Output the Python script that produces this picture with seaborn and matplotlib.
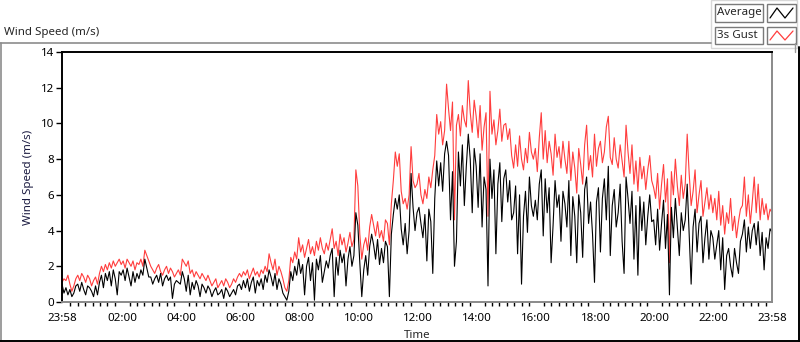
import numpy as np
import pandas as pd
import seaborn as sns
import matplotlib
matplotlib.use("Agg")
import matplotlib.pyplot as plt
from matplotlib.lines import Line2D
from matplotlib.patches import Rectangle

# ---------------- data (4-minute samples starting 23:58, one row per hour) ----------------
gust = [
    1.1, 1.3, 1.2, 1.5, 1.0, 0.6, 0.9, 1.3, 1.5, 1.2, 1.6, 1.4, 1.1, 1.5, 1.3,
    0.9, 1.2, 1.4, 1.0, 1.6, 2.0, 1.7, 2.1, 1.8, 2.2, 1.9, 2.3, 2.0, 2.2, 2.4,
    2.1, 2.3, 1.9, 2.4, 2.2, 2.0, 2.3, 1.8, 2.2, 2.1, 2.4, 2.0, 2.9, 2.6, 2.3,
    2.0, 1.8, 1.6, 1.9, 2.1, 1.7, 1.5, 1.8, 2.0, 1.6, 1.9, 1.7, 1.4, 1.6, 1.8,
    1.5, 2.4, 2.2, 2.0, 2.3, 1.6, 1.8, 1.4, 1.7, 1.5, 1.3, 1.6, 1.4, 1.2, 1.5,
    1.2, 0.9, 1.1, 1.3, 0.8, 1.0, 1.2, 0.9, 1.3, 1.1, 0.8, 1.0, 1.3, 1.1, 1.4,
    1.6, 1.4, 1.7, 1.5, 1.8, 1.3, 1.6, 1.9, 1.5, 1.7, 1.4, 1.8, 1.6, 2.0, 1.7,
    2.7, 2.2, 1.8, 2.4, 1.5, 2.0, 1.7, 1.3, 0.8, 0.6, 1.2, 2.5, 2.2, 2.8, 2.4,
    3.6, 2.8, 3.2, 2.5, 3.0, 3.5, 2.7, 3.1, 2.6, 3.4, 2.9, 3.6, 3.0, 2.7, 3.3,
    2.9, 3.5, 4.1, 3.0, 3.4, 2.6, 3.8, 3.2, 3.6, 2.8, 3.3, 3.9, 3.1, 3.5, 7.4,
    6.5, 3.8, 2.4, 3.2, 3.6, 2.9, 4.2, 4.9, 4.3, 3.7, 4.5, 3.6, 4.0, 3.4, 4.6,
    4.4, 3.2, 5.5, 6.8, 8.4, 7.6, 8.3, 6.2, 5.5, 5.8, 5.2, 6.0, 8.7, 6.8, 6.4,
    6.6, 7.2, 6.0, 5.5, 6.3, 5.8, 7.0, 6.4, 7.4, 8.2, 10.5, 9.4, 10.1, 8.8, 9.6,
    12.2, 10.8, 9.6, 11.2, 4.6, 9.9, 10.5, 9.3, 11.0, 10.2, 9.8, 12.4, 10.6, 9.5, 11.3,
    10.4, 9.2, 11.0, 8.5, 9.8, 10.6, 4.8, 11.8, 9.4, 10.2, 8.8, 9.6, 10.8, 9.0, 9.9,
    10.0, 9.1, 9.7, 8.2, 7.5, 8.8, 7.6, 9.3, 8.0, 7.4, 8.6, 7.8, 9.5, 8.4, 8.0,
    8.6, 7.3, 9.2, 10.6, 8.0, 9.6, 7.8, 9.0, 8.3, 7.1, 9.4, 8.1, 8.7, 7.5, 9.0,
    8.0, 7.2, 9.0, 6.8, 8.4, 7.5, 6.1, 8.6, 7.7, 6.6, 8.8, 9.9, 7.4, 8.2, 7.0,
    9.4, 7.6, 8.6, 9.0, 7.8, 8.4, 9.8, 10.4, 8.1, 7.7, 9.2, 8.0, 7.5, 8.8, 7.9,
    7.0, 9.9, 8.4, 7.2, 8.8, 6.6, 7.9, 6.2, 8.1, 6.9, 7.6, 6.3, 7.4, 8.2, 6.8,
    6.4, 5.8, 7.2, 5.2, 6.6, 7.7, 5.6, 6.9, 2.2, 7.3, 6.0, 8.0, 6.5, 5.4, 7.1,
    5.8, 6.6, 9.4, 7.2, 5.4, 6.2, 7.4, 5.0, 6.0, 6.8, 4.8, 5.6, 6.4, 5.2, 6.0,
    5.0, 5.8, 4.6, 6.2, 4.3, 5.4, 3.8, 5.0, 4.4, 5.8, 4.0, 4.8, 3.6, 4.5, 5.2,
    5.4, 7.0, 4.8, 6.0, 4.4, 5.6, 7.0, 5.0, 6.6, 4.6, 5.8, 4.9, 5.5, 4.6, 5.2,
    5.0,
]
average = [
    1.0, 0.5, 0.8, 0.4, 0.7, 0.3, 0.5, 0.9, 1.0, 0.6, 1.1, 0.7, 0.4, 0.9, 0.8,
    0.6, 0.3, 0.9, 0.4, 1.1, 1.5, 0.8, 1.6, 1.2, 1.7, 0.9, 1.8, 1.3, 0.4, 1.7,
    1.5, 1.8, 1.2, 1.9, 1.4, 0.9, 1.7, 1.1, 1.6, 1.3, 1.8, 1.5, 2.4, 1.9, 1.4,
    1.4, 1.0, 1.3, 1.5, 1.1, 1.6, 0.9, 1.3, 1.5, 1.2, 1.4, 0.2, 1.0, 1.2, 1.1,
    1.0, 1.7, 1.3, 0.6, 1.5, 0.4, 1.1, 0.7, 1.2, 0.9, 0.3, 1.0, 0.8, 0.5, 0.9,
    0.7, 0.3, 0.6, 0.8, 0.4, 0.5, 0.7, 0.2, 0.8, 0.6, 0.3, 0.5, 0.7, 0.4, 0.9,
    1.0, 0.7, 1.2, 0.8, 1.3, 0.6, 1.1, 1.4, 0.5, 1.2, 0.9, 1.3, 0.7, 1.5, 1.1,
    1.8, 1.4, 0.9, 1.6, 0.7, 1.3, 1.0, 0.5, 0.3, 0.1, 0.6, 1.7, 1.2, 2.0, 1.5,
    2.4, 1.6, 2.1, 0.4, 2.0, 2.5, 1.2, 2.2, 0.1, 2.4, 1.8, 2.6, 1.1, 1.7, 2.3,
    1.9, 2.6, 3.0, 0.3, 2.5, 1.5, 2.9, 2.2, 2.7, 0.9, 2.4, 3.1, 2.0, 2.6, 5.0,
    4.3, 2.2, 0.3, 1.8, 2.6, 1.5, 3.1, 3.8, 3.2, 2.4, 3.5, 2.1, 3.0, 2.2, 3.4,
    3.1, 0.3, 3.8, 4.9, 5.8, 5.2, 6.0, 4.1, 3.2, 4.4, 2.7, 4.0, 7.2, 5.3, 4.0,
    5.0, 5.3, 4.4, 3.6, 4.9, 2.3, 5.2, 4.5, 1.6, 5.8, 7.9, 6.5, 7.8, 6.2, 8.3,
    9.0, 8.2, 4.6, 7.3, 2.0, 3.4, 8.4, 6.5, 8.8, 5.4, 7.6, 9.4, 8.0, 5.0, 8.6,
    7.6, 5.3, 8.3, 4.2, 7.0, 6.3, 0.9, 8.0, 5.8, 7.4, 2.7, 6.6, 7.8, 4.5, 6.9,
    7.4, 5.6, 6.8, 4.6, 5.0, 6.5, 2.7, 6.0, 1.0, 4.8, 6.2, 3.9, 7.0, 5.4, 4.8,
    5.7, 4.6, 6.6, 7.4, 3.7, 6.9, 5.0, 6.4, 2.2, 4.3, 6.8, 5.3, 6.0, 3.4, 6.2,
    5.5, 4.2, 6.8, 2.6, 5.9, 4.8, 2.2, 6.0, 5.0, 2.5, 6.3, 7.0, 4.4, 5.6, 3.8,
    1.1, 5.6, 6.4, 2.8, 5.8, 6.9, 4.6, 7.6, 2.6, 5.4, 6.3, 4.2, 5.0, 6.6, 3.4,
    1.6, 7.0, 5.8, 4.4, 6.2, 2.4, 5.4, 1.5, 5.9, 4.0, 5.6, 3.2, 4.8, 6.0, 4.5,
    4.6, 3.2, 5.2, 2.9, 4.4, 5.7, 3.0, 4.9, 0.4, 5.3, 3.6, 5.8, 4.2, 2.6, 5.0,
    4.0, 4.6, 6.6, 3.8, 1.0, 4.2, 5.2, 2.8, 4.4, 4.8, 2.2, 3.6, 4.6, 2.4, 4.0,
    3.6, 2.4, 3.2, 4.0, 1.8, 3.6, 0.7, 2.6, 3.0, 2.0, 1.4, 3.0, 2.2, 1.6, 3.4,
    3.8, 4.6, 2.8, 4.2, 3.0, 4.0, 4.4, 3.2, 4.5, 2.6, 3.9, 1.8, 3.6, 3.0, 4.1,
    3.9,
]
sample_step_min = 4
series_names = ["3s Gust", "Average"]
series_colors = ["#ff3d3d", "#000000"]
x_tick_labels = ["23:58", "02:00", "04:00", "06:00", "08:00", "10:00", "12:00",
                 "14:00", "16:00", "18:00", "20:00", "22:00", "23:58"]
y_ticks = [0, 2, 4, 6, 8, 10, 12, 14]

# minutes after 23:58
minutes = np.arange(len(gust)) * sample_step_min
df = pd.concat([
    pd.DataFrame({"t": minutes, "v": gust, "s": "3s Gust"}),
    pd.DataFrame({"t": minutes, "v": average, "s": "Average"}),
])

sns.set_style("white")
plt.rcParams["font.family"] = ["Noto Sans", "DejaVu Sans"]

W, H = 800, 342
fig = plt.figure(figsize=(W / 100, H / 100), dpi=100)

def fx(x):
    return x / W

def fy(y):
    return 1 - y / H

ax = fig.add_axes([fx(62), fy(302), fx(772) - fx(62), fy(52) - fy(302)])
sns.lineplot(data=df, x="t", y="v", hue="s", hue_order=series_names,
             palette=dict(zip(series_names, series_colors)), linewidth=0.8,
             legend=False, ax=ax, estimator=None, sort=False)

ax.set_xlim(0, 1440)
ax.set_ylim(0, 14)
ax.set_yticks(y_ticks)
ax.set_yticklabels([str(v) for v in y_ticks])

major_pos = [0] + [2 + 120 * j for j in range(1, 12)] + [1440]
ax.set_xticks(major_pos)
ax.set_xticklabels(x_tick_labels)
minor_pos = [2 + 15 * k for k in range(1, 96) if k % 8 != 0]
ax.set_xticks(minor_pos, minor=True)

ax.tick_params(axis="x", which="major", direction="out", length=5, width=1.6,
               labelsize=8.3, pad=3, colors="black")
ax.tick_params(axis="x", which="minor", direction="out", length=3, width=1.0,
               colors="black", bottom=True)
ax.tick_params(axis="y", which="major", direction="out", length=4, width=1.0,
               labelsize=8.3, pad=1.5, left=True, colors="black")

for side in ["top", "left"]:
    ax.spines[side].set_color("black")
    ax.spines[side].set_linewidth(1.4)
for side in ["right", "bottom"]:
    ax.spines[side].set_color("#8a8a8a")
    ax.spines[side].set_linewidth(1.4)

ax.set_xlabel("Time", fontsize=8.3, labelpad=4)
ax.set_ylabel("Wind Speed (m/s)", fontsize=8.3, labelpad=5, color="#1a1a40")

# ---------------- panel frame and title ----------------
fig.add_artist(Line2D([fx(0), fx(711)], [fy(42.5), fy(42.5)], color="#8c8c8c", lw=1.2))
fig.add_artist(Line2D([fx(0.6), fx(0.6)], [fy(42.5), fy(342)], color="#8c8c8c", lw=1.2))
fig.add_artist(Line2D([fx(0), fx(800)], [fy(341), fy(341)], color="black", lw=1.4))
fig.add_artist(Line2D([fx(799.3), fx(799.3)], [fy(47), fy(342)], color="black", lw=1.4))
fig.add_artist(Line2D([fx(795), fx(795)], [fy(43), fy(52)], color="#9a9a9a", lw=1.0))
fig.text(fx(4), fy(32), "Wind Speed (m/s)", fontsize=8.3, va="center", ha="left")

# ---------------- LabVIEW style legend ----------------
fig.add_artist(Rectangle((fx(711), fy(48)), fx(86), fy(0) - fy(48),
                         facecolor="white", edgecolor="#d8d8d8", lw=1.0))
rows_y = [(4, 22), (27, 44)]
for (y0, y1), name, col in zip(rows_y, ["Average", "3s Gust"], ["#000000", "#ff3d3d"]):
    fig.add_artist(Rectangle((fx(715), fy(y1)), fx(48), fy(y0) - fy(y1),
                             facecolor="white", edgecolor="#7a7a7a", lw=1.0))
    fig.text(fx(717), fy((y0 + y1) / 2), name, fontsize=8.3, va="center", ha="left")
    fig.add_artist(Rectangle((fx(767), fy(y1)), fx(29), fy(y0) - fy(y1),
                             facecolor="white", edgecolor="#7a7a7a", lw=1.0))
    fig.add_artist(Line2D([fx(770), fx(777), fx(785), fx(793)],
                          [fy(y1 - 4), fy(y0 + 4), fy(y1 - 4), fy(y0 + 4)],
                          color=col, lw=0.9))

fig.savefig("out.png", dpi=100)
